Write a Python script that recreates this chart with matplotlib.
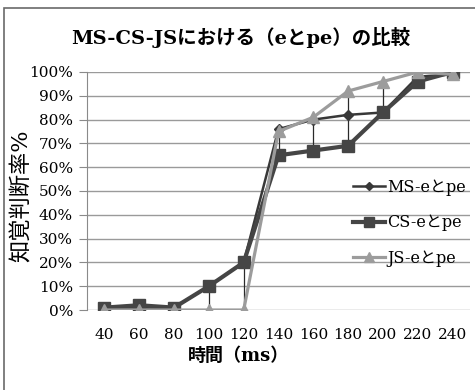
import matplotlib
matplotlib.use('Agg')
import matplotlib.pyplot as plt
from matplotlib.ticker import PercentFormatter
from matplotlib.patches import Rectangle

plt.rcParams['font.family'] = ['DejaVu Serif', 'Noto Sans CJK JP']

times = ['40', '60', '80', '100', '120', '140', '160', '180', '200', '220', '240']
ms_pe = [1, 1, 1, 10, 20, 76, 80, 82, 83, 98, 99]
cs_pe = [1, 2, 1, 10, 20, 65, 67, 69, 83, 96, 100]
js_pe = [0, 0, 0, 0, 0, 75, 81, 92, 96, 100, 99]
labels = ['MS-eとpe', 'CS-eとpe', 'JS-eとpe']

fig = plt.figure(figsize=(4.75, 3.9), dpi=100)
ax = fig.add_axes([87 / 475, 1 - 310 / 390, (470 - 87) / 475, (310 - 72) / 390])

# outer chart border
fig.patches.append(Rectangle((4 / 475, -0.05), 1.2, 1 - 8 / 390 + 0.05,
                             transform=fig.transFigure, fill=False,
                             edgecolor='#6a6a6a', lw=1.2))

x = list(range(len(times)))
series = [ms_pe, cs_pe, js_pe]

# high-low lines between the series at each time step
lows = [min(v) for v in zip(*series)]
highs = [max(v) for v in zip(*series)]
ax.vlines(x, lows, highs, colors='#2a2a2a', lw=0.9, zorder=2)

ax.plot(x, ms_pe, color='#383838', lw=1.8, marker='D', markersize=5,
        label=labels[0], zorder=3)
ax.plot(x, cs_pe, color='#454545', lw=3.0, marker='s', markersize=9,
        label=labels[1], zorder=4)
ax.plot(x, js_pe, color='#9c9c9c', lw=2.3, marker='^', markersize=9,
        label=labels[2], zorder=5)

ax.set_xlim(-0.5, len(times) - 0.5)
ax.set_ylim(0, 100)
ax.set_yticks(range(0, 101, 10))
ax.yaxis.set_major_formatter(PercentFormatter(xmax=100, decimals=0))
ax.set_xticks(x)
ax.set_xticklabels(times)
ax.grid(axis='y', color='#9a9a9a', lw=1.0)
ax.set_axisbelow(True)
for side in ['top', 'right', 'bottom']:
    ax.spines[side].set_visible(False)
ax.spines['left'].set_color('#8a8a8a')
ax.tick_params(axis='y', length=6, color='#8a8a8a', labelsize=11, pad=4)
ax.tick_params(axis='x', length=0, labelsize=11, pad=13)

fig.text(241 / 475, 1 - 37 / 390, 'MS-CS-JSにおける（eとpe）の比較', ha='center', va='center',
         fontsize=14, fontweight='bold')
fig.text(238 / 475, 1 - 356 / 390, '時間（ms）', ha='center', va='center',
         fontsize=13, fontweight='bold')
fig.text(22 / 475, 1 - 196 / 390, '知覚判断率%', rotation=90, ha='center', va='center',
         fontsize=16)

ax.legend(loc='center left', bbox_to_anchor=(0.678, 0.366), frameon=False,
          fontsize=11.5, handlelength=2.0, handletextpad=0.15, labelspacing=1.15,
          borderaxespad=0, markerscale=0.8)

fig.savefig('out.png', dpi=100)
